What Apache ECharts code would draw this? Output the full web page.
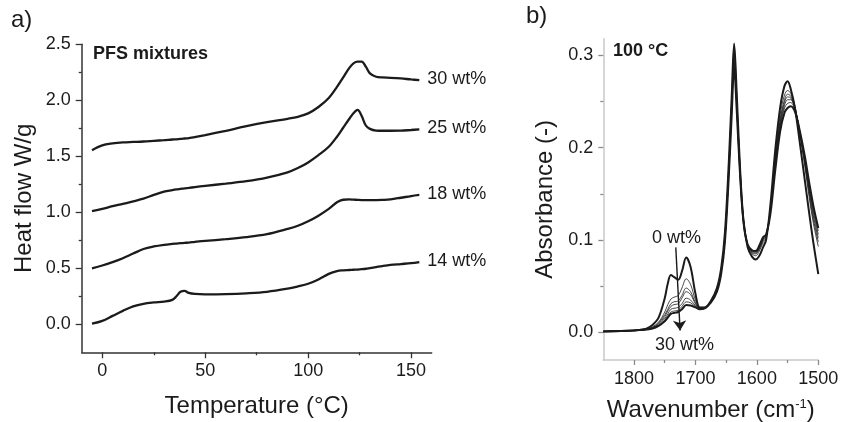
<!DOCTYPE html>
<html>
<head>
<meta charset="utf-8">
<script src="https://cdn.jsdelivr.net/npm/echarts@6/dist/echarts.min.js"></script>
<style>
  html, body { margin: 0; padding: 0; background: #fff; }
  #chart { width: 841px; height: 422px; }
</style>
</head>
<body>
<div id="chart"></div>
<script>
// ---- a) DSC heating curves of the PFS mixtures ----
const temperature = [-5, 0, 5, 10, 15, 20, 25, 30, 34, 36, 38, 40, 42, 45, 50, 60, 70, 80, 90, 95,
  100, 105, 110, 114, 117, 120, 122, 124, 126, 128, 130, 133, 136, 140, 145, 150, 154];
const flow30 = [1.555, 1.598, 1.615, 1.624, 1.628, 1.632, 1.638, 1.644, 1.650, 1.652, 1.655, 1.659, 1.663, 1.672, 1.689, 1.728, 1.769, 1.805, 1.835, 1.853,
  1.883, 1.940, 2.020, 2.120, 2.205, 2.290, 2.330, 2.345, 2.345, 2.300, 2.240, 2.210, 2.204, 2.201, 2.195, 2.186, 2.180];
const flow25 = [1.010, 1.030, 1.055, 1.075, 1.098, 1.122, 1.155, 1.185, 1.198, 1.204, 1.209, 1.214, 1.218, 1.225, 1.236, 1.256, 1.278, 1.310, 1.357, 1.395,
  1.445, 1.510, 1.585, 1.675, 1.755, 1.835, 1.885, 1.915, 1.860, 1.775, 1.745, 1.730, 1.728, 1.728, 1.729, 1.735, 1.740];
const flow18 = [0.500, 0.525, 0.555, 0.590, 0.632, 0.672, 0.695, 0.710, 0.718, 0.721, 0.724, 0.727, 0.730, 0.736, 0.745, 0.760, 0.778, 0.805, 0.852, 0.880,
  0.920, 0.970, 1.030, 1.090, 1.112, 1.115, 1.113, 1.111, 1.109, 1.108, 1.108, 1.109, 1.111, 1.116, 1.130, 1.145, 1.155];
const flow14 = [0.005, 0.030, 0.075, 0.120, 0.160, 0.183, 0.195, 0.203, 0.218, 0.250, 0.290, 0.298, 0.280, 0.271, 0.268, 0.270, 0.277, 0.290, 0.318, 0.338,
  0.362, 0.400, 0.450, 0.475, 0.482, 0.485, 0.487, 0.489, 0.492, 0.496, 0.502, 0.511, 0.520, 0.530, 0.538, 0.546, 0.556];
const dscNames = ['14 wt%', '18 wt%', '25 wt%', '30 wt%'];
const dscMajorX = [0, 50, 100, 150];
const dscMinorX = [25, 75, 125];
const dscMajorY = [0, 0.5, 1.0, 1.5, 2.0, 2.5];
const dscMinorY = [0.25, 0.75, 1.25, 1.75, 2.25];

// ---- b) FTIR spectra at 100 °C ----
const wavenumber = [1850, 1800, 1780, 1770, 1760, 1750, 1745, 1740, 1735, 1728, 1722, 1715, 1708, 1700, 1693,
  1685, 1675, 1665, 1658, 1652, 1646, 1641, 1637, 1633, 1628, 1622, 1615, 1608, 1602, 1596, 1590, 1585,
  1578, 1570, 1562, 1555, 1550, 1545, 1538, 1530, 1522, 1515, 1508, 1500];
const abs0 = [0.001, 0.002, 0.004, 0.008, 0.016, 0.037, 0.053, 0.062, 0.060, 0.057, 0.066, 0.081, 0.071, 0.042, 0.027,
  0.027, 0.034, 0.048, 0.070, 0.108, 0.180, 0.255, 0.313, 0.262, 0.186, 0.122, 0.092, 0.082, 0.079, 0.083, 0.092, 0.100,
  0.138, 0.198, 0.244, 0.267, 0.272, 0.264, 0.243, 0.205, 0.165, 0.130, 0.097, 0.063];
const abs5 = [0.001, 0.002, 0.003, 0.006, 0.011, 0.022, 0.030, 0.036, 0.038, 0.040, 0.048, 0.058, 0.052, 0.035, 0.027,
  0.027, 0.034, 0.048, 0.069, 0.106, 0.177, 0.252, 0.310, 0.260, 0.186, 0.124, 0.094, 0.085, 0.083, 0.088, 0.097, 0.102,
  0.135, 0.190, 0.236, 0.257, 0.262, 0.259, 0.245, 0.214, 0.180, 0.147, 0.118, 0.093];
const abs10 = [0.001, 0.002, 0.003, 0.005, 0.010, 0.019, 0.025, 0.031, 0.033, 0.034, 0.040, 0.048, 0.044, 0.032, 0.026,
  0.026, 0.033, 0.047, 0.068, 0.104, 0.175, 0.249, 0.305, 0.256, 0.184, 0.123, 0.094, 0.086, 0.085, 0.090, 0.099, 0.103,
  0.133, 0.186, 0.231, 0.252, 0.258, 0.256, 0.244, 0.215, 0.183, 0.151, 0.122, 0.098];
const abs14 = [0.001, 0.002, 0.003, 0.005, 0.009, 0.017, 0.023, 0.028, 0.030, 0.031, 0.037, 0.044, 0.041, 0.031, 0.026,
  0.026, 0.033, 0.046, 0.067, 0.102, 0.172, 0.245, 0.300, 0.252, 0.182, 0.122, 0.094, 0.087, 0.086, 0.091, 0.100, 0.104,
  0.132, 0.184, 0.228, 0.249, 0.255, 0.254, 0.243, 0.216, 0.185, 0.154, 0.126, 0.102];
const abs18 = [0.001, 0.002, 0.003, 0.005, 0.008, 0.015, 0.020, 0.025, 0.026, 0.027, 0.031, 0.037, 0.035, 0.029, 0.026,
  0.026, 0.033, 0.046, 0.066, 0.101, 0.170, 0.242, 0.296, 0.249, 0.181, 0.122, 0.095, 0.088, 0.087, 0.092, 0.101, 0.105,
  0.131, 0.182, 0.225, 0.246, 0.252, 0.252, 0.242, 0.217, 0.187, 0.157, 0.130, 0.106];
const abs25 = [0.001, 0.002, 0.003, 0.004, 0.007, 0.013, 0.018, 0.022, 0.023, 0.024, 0.028, 0.033, 0.032, 0.028, 0.025,
  0.026, 0.033, 0.045, 0.065, 0.100, 0.168, 0.239, 0.292, 0.246, 0.180, 0.122, 0.095, 0.089, 0.088, 0.093, 0.102, 0.106,
  0.130, 0.180, 0.222, 0.243, 0.248, 0.249, 0.241, 0.218, 0.189, 0.160, 0.133, 0.110];
const abs30 = [0.001, 0.002, 0.003, 0.004, 0.007, 0.012, 0.016, 0.020, 0.021, 0.022, 0.025, 0.0295, 0.029, 0.027, 0.025,
  0.026, 0.032, 0.044, 0.064, 0.098, 0.165, 0.235, 0.287, 0.243, 0.178, 0.121, 0.095, 0.089, 0.088, 0.094, 0.103, 0.106,
  0.128, 0.176, 0.218, 0.238, 0.243, 0.245, 0.239, 0.218, 0.191, 0.163, 0.137, 0.113];
const ftirNames = ['0 wt%', '5 wt%', '10 wt%', '14 wt%', '18 wt%', '25 wt%', '30 wt%'];
const ftirMajorX = [1500, 1600, 1700, 1800];
const ftirMinorX = [1550, 1650, 1750];
const ftirMajorY = [0, 0.1, 0.2, 0.3];
const ftirMinorY = [0.05, 0.15, 0.25];
// arrow from the 0 wt% label down to the 30 wt% label: [wavenumber, absorbance]
const arrowStart = [1732, 0.092];
const arrowEnd = [1725, 0.002];

const FONT = '"Liberation Sans", Arial, Helvetica, sans-serif';
const INK = '#1b1b1b';

const zip = (xs, ys) => xs.map((x, i) => [x, ys[i]]);

function valueAxis(opts) {
  const { gridIndex, min, max, inverse, position, major, minor, lineColor, tickColor, margin, majorLen, minorLen, digits, name, nameGap, nameStyle } = opts;
  const main = {
    type: 'value', gridIndex, min, max, inverse: !!inverse, position,
    name: name || '', nameLocation: 'middle', nameGap: nameGap || 0,
    nameTextStyle: nameStyle,
    splitLine: { show: false },
    axisLine: { show: true, onZero: false, lineStyle: { color: lineColor, width: 1.5 } },
    axisTick: { show: true, inside: false, length: majorLen, customValues: major, lineStyle: { color: tickColor, width: 1.3 } },
    axisLabel: {
      show: true, customValues: major, margin,
      fontFamily: FONT, fontSize: 18, color: INK,
      formatter: v => digits == null ? String(v) : Number(v).toFixed(digits)
    }
  };
  const sub = {
    type: 'value', gridIndex, min, max, inverse: !!inverse, position,
    splitLine: { show: false },
    axisLine: { show: false, onZero: false },
    axisTick: { show: true, inside: false, length: minorLen, customValues: minor, lineStyle: { color: tickColor, width: 1.3 } },
    axisLabel: { show: false }
  };
  return [main, sub];
}

const nameFont = { fontFamily: FONT, fontSize: 24, color: INK };

const xAxes = [
  ...valueAxis({ gridIndex: 0, min: -10, max: 160, position: 'bottom', major: dscMajorX, minor: dscMinorX,
    lineColor: '#333', tickColor: '#333', margin: 10, majorLen: 6, minorLen: 3,
    name: 'Temperature (°C)', nameGap: 42, nameStyle: nameFont }),
  ...valueAxis({ gridIndex: 1, min: 1500, max: 1850, inverse: true, position: 'bottom', major: ftirMajorX, minor: ftirMinorX,
    lineColor: '#c9c9c9', tickColor: '#8a8a8a', margin: 10, majorLen: 5, minorLen: 3,
    name: '{t|Wavenumber (cm}{s|-1}{t|)}', nameGap: 38,
    nameStyle: { rich: { t: { fontFamily: FONT, fontSize: 24, color: INK }, s: { fontFamily: FONT, fontSize: 13, color: INK, verticalAlign: 'top' } } } })
];
const yAxes = [
  ...valueAxis({ gridIndex: 0, min: -0.25, max: 2.5, position: 'left', major: dscMajorY, minor: dscMinorY,
    lineColor: '#333', tickColor: '#333', margin: 11, majorLen: 6, minorLen: 3, digits: 1,
    name: 'Heat flow W/g', nameGap: 45, nameStyle: nameFont }),
  ...valueAxis({ gridIndex: 1, min: -0.03, max: 0.318, position: 'left', major: ftirMajorY, minor: ftirMinorY,
    lineColor: '#c9c9c9', tickColor: '#8a8a8a', margin: 10, majorLen: 5, minorLen: 3, digits: 1,
    name: 'Absorbance (-)', nameGap: 46, nameStyle: nameFont })
];

const dscFlows = [flow14, flow18, flow25, flow30];
const dscSeries = dscFlows.map((flow, i) => ({
  type: 'line', name: dscNames[i], xAxisIndex: 0, yAxisIndex: 0,
  data: zip(temperature, flow), showSymbol: false, smooth: 0.35,
  lineStyle: { color: INK, width: 2.3 },
  endLabel: { show: true, formatter: '{a}', distance: 8, offset: [0, -1], fontFamily: FONT, fontSize: 18, color: INK },
  silent: true
}));

const ftirAbs = [abs0, abs5, abs10, abs14, abs18, abs25, abs30];
// thin intermediate spectra first, the two bounding spectra drawn bold on top
const ftirOrder = [1, 2, 3, 4, 5, 6, 0];
const ftirSeries = ftirOrder.map(i => {
  const bold = (i === 0 || i === 6);
  const s = {
    type: 'line', name: ftirNames[i], xAxisIndex: 2, yAxisIndex: 2,
    data: zip(wavenumber, ftirAbs[i]), showSymbol: false, smooth: 0.35,
    lineStyle: { color: INK, width: bold ? 2 : 0.8 },
    silent: true
  };
  if (i === 0) {
    s.markLine = {
      silent: true, symbol: ['none', 'arrow'], symbolSize: 10,
      lineStyle: { color: INK, width: 1.4, type: 'solid' },
      itemStyle: { color: INK },
      label: { show: false },
      data: [[{ coord: arrowStart }, { coord: arrowEnd }]]
    };
  }
  return s;
});

const chart = echarts.init(document.getElementById('chart'), null, { renderer: 'canvas' });
chart.setOption({
  animation: false,
  backgroundColor: '#fff',
  grid: [
    { left: 81.7, top: 44.3, width: 350, height: 308, outerBoundsMode: 'none', containLabel: false },
    { left: 603.3, top: 38.8, width: 215, height: 321.2, outerBoundsMode: 'none', containLabel: false }
  ],
  xAxis: xAxes,
  yAxis: yAxes,
  series: [...dscSeries, ...ftirSeries],
  graphic: [
    { type: 'text', left: 11, top: 8, style: { text: 'a)', font: '24px ' + FONT, fill: INK } },
    { type: 'text', left: 526, top: 4, style: { text: 'b)', font: '24px ' + FONT, fill: INK } },
    { type: 'text', left: 93, top: 45, style: { text: 'PFS mixtures', font: 'bold 18px ' + FONT, fill: INK } },
    { type: 'text', left: 613, top: 42.5, style: { text: '100 °C', font: 'bold 18px ' + FONT, fill: INK } },
    { type: 'text', left: 652, top: 229, style: { text: '0 wt%', font: '18px ' + FONT, fill: INK } },
    { type: 'text', left: 655, top: 336, style: { text: '30 wt%', font: '18px ' + FONT, fill: INK } }
  ]
});
</script>
</body>
</html>
